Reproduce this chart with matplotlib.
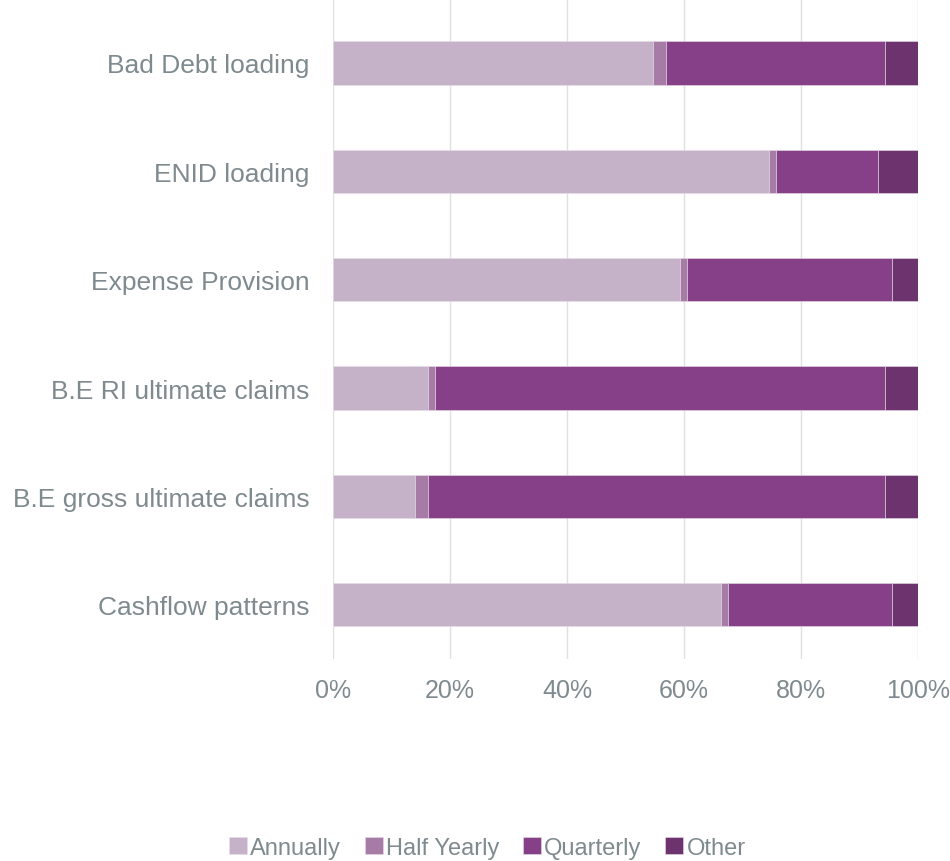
import numpy as np
import matplotlib.pyplot as plt

# categories listed bottom to top
categories = ['Cashflow patterns', 'B.E gross ultimate claims', 'B.E RI ultimate claims',
              'Expense Provision', 'ENID loading', 'Bad Debt loading']
annually = [66.3, 14.0, 16.2, 59.4, 74.5, 54.7]
half_yearly = [1.2, 2.2, 1.2, 1.1, 1.2, 2.3]
quarterly = [28.0, 78.2, 77.0, 35.1, 17.4, 37.4]
other = [4.5, 5.6, 5.6, 4.4, 6.9, 5.6]

series_names = ['Annually', 'Half Yearly', 'Quarterly', 'Other']
colors = ['#c5b2c9', '#a67ba6', '#854087', '#6c336f']
text_col = '#7f8a8f'

plt.rcParams['font.family'] = ['Liberation Sans', 'DejaVu Sans']

fig = plt.figure(figsize=(9.5, 8.62), dpi=100)
ax = fig.add_axes([333 / 950, 1 - 660 / 862, 585 / 950, 660 / 862])

y = np.arange(len(categories))
left = np.zeros(len(categories))
for name, vals, c in zip(series_names, [annually, half_yearly, quarterly, other], colors):
    vals = np.array(vals)
    ax.barh(y, vals, left=left, height=0.4, color=c, label=name,
            edgecolor='#e8dcea', linewidth=0.4, zorder=3)
    left += vals

ax.set_xlim(0, 100)
ax.set_ylim(-0.5, 5.59)
ax.set_xticks(np.arange(0, 101, 20))
ax.set_xticklabels([f'{v}%' for v in range(0, 101, 20)])
ax.set_yticks(y)
ax.set_yticklabels(categories)
ax.grid(axis='x', color='#e0e0e0', linewidth=1, zorder=0)
for s in ax.spines.values():
    s.set_visible(False)
ax.tick_params(axis='both', length=0, colors=text_col)
ax.tick_params(axis='y', pad=17, labelsize=19)
ax.tick_params(axis='x', pad=14, labelsize=18)

fig.legend(loc='center', bbox_to_anchor=(0.513, 1 - 849 / 862), ncol=4, frameon=False,
           fontsize=17, labelcolor=text_col, handlelength=0.75, handleheight=0.75,
           handletextpad=0.15, columnspacing=1.0)

fig.savefig('out.png', dpi=100)
